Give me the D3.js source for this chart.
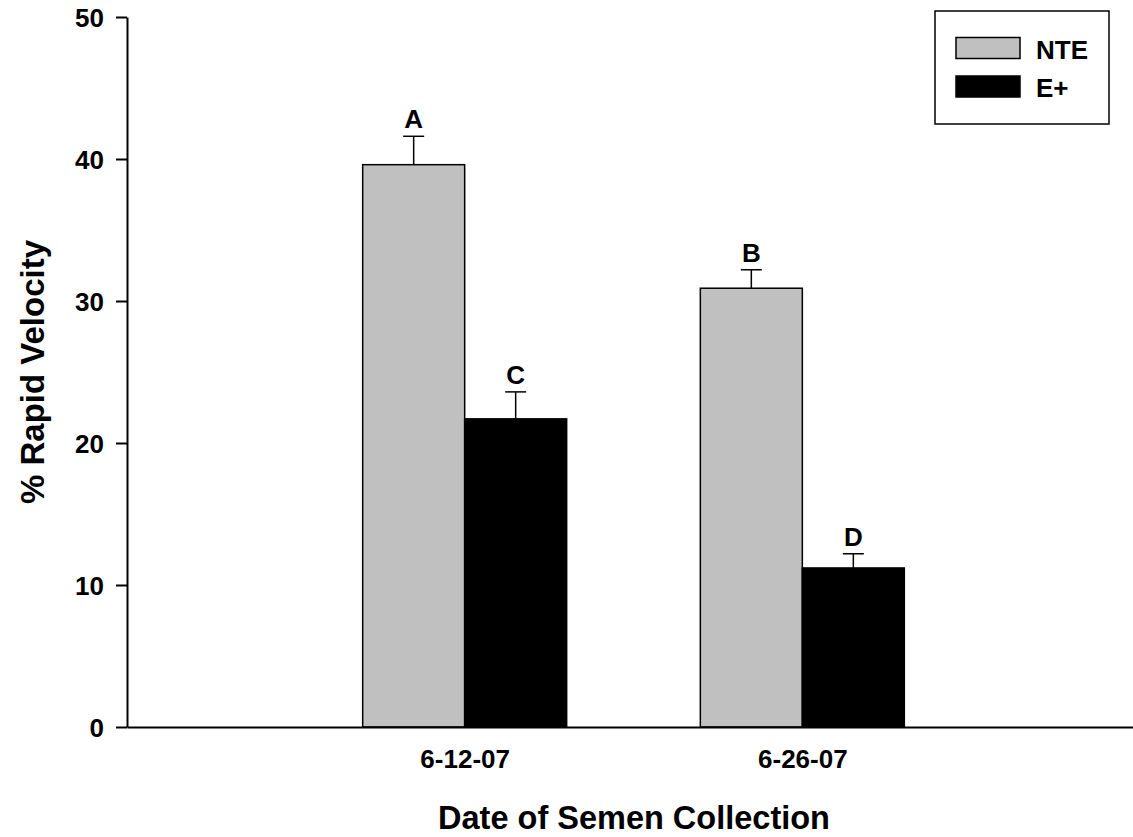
<!DOCTYPE html>
<html>
<head>
<meta charset="utf-8">
<script src="https://cdn.jsdelivr.net/npm/d3@7"></script>
<style>
  html, body { margin: 0; padding: 0; background: #fff; }
  svg { display: block; font-family: "Liberation Sans", Arial, sans-serif; font-weight: bold; }
</style>
</head>
<body>
<script>
// ---- data ----
const categories = ["6-12-07", "6-26-07"];
const seriesNames = ["NTE", "E+"];
const nteValues = [39.6, 30.9];
const nteErrors = [2.0, 1.3];
const ePlusValues = [21.7, 11.2];
const ePlusErrors = [1.9, 1.0];
const nteLetters = ["A", "B"];
const ePlusLetters = ["C", "D"];
const yTicks = [0, 10, 20, 30, 40, 50];
const seriesColors = ["#c0c0c0", "#000000"];

const W = 1133, H = 837;
const svg = d3.select("body").append("svg").attr("width", W).attr("height", H);

const x0 = 127, x1 = 1140, yBottom = 727, yTop = 17;
const x = d3.scalePoint().domain(categories).range([x0, x1]).padding(1);
const y = d3.scaleLinear().domain([0, 50]).range([yBottom, yTop]);
const barW = 102;

const series = [
  {name: seriesNames[0], values: nteValues, errors: nteErrors, letters: nteLetters, color: seriesColors[0], offset: -1},
  {name: seriesNames[1], values: ePlusValues, errors: ePlusErrors, letters: ePlusLetters, color: seriesColors[1], offset: 0}
];

// bars, error bars, letters
series.forEach(s => {
  const g = svg.append("g");
  const data = categories.map((c, i) => ({c, v: s.values[i], e: s.errors[i], l: s.letters[i]}));
  const left = d => x(d.c) + s.offset * barW;
  const cx = d => left(d) + barW / 2;
  g.selectAll("line.stem").data(data).join("line").attr("class", "stem")
    .attr("x1", cx).attr("x2", cx)
    .attr("y1", d => y(d.v)).attr("y2", d => y(d.v + d.e))
    .attr("stroke", "#000").attr("stroke-width", 1.5);
  g.selectAll("line.cap").data(data).join("line").attr("class", "cap")
    .attr("x1", d => cx(d) - 10.5).attr("x2", d => cx(d) + 10.5)
    .attr("y1", d => y(d.v + d.e)).attr("y2", d => y(d.v + d.e))
    .attr("stroke", "#000").attr("stroke-width", 1.5);
  g.selectAll("rect").data(data).join("rect")
    .attr("x", left).attr("width", barW)
    .attr("y", d => y(d.v)).attr("height", d => y(0) - y(d.v))
    .attr("fill", s.color).attr("stroke", "#000").attr("stroke-width", 1.5);
  g.selectAll("text").data(data).join("text")
    .attr("x", cx).attr("y", d => y(d.v + d.e) - 8)
    .attr("text-anchor", "middle").attr("font-size", 26)
    .text(d => d.l);
});

// y axis
const yAxis = d3.axisLeft(y).tickValues(yTicks).tickSize(11).tickPadding(12).tickSizeOuter(0);
const gy = svg.append("g").attr("transform", `translate(${x0},0)`).call(yAxis);
gy.select(".domain").attr("stroke-width", 2);
gy.selectAll(".tick line").attr("stroke-width", 2);
gy.selectAll(".tick text").attr("font-size", 26).attr("font-family", "Liberation Sans, Arial, sans-serif")
  .attr("font-weight", "bold").attr("fill", "#000").attr("dy", "0.36em");

// x axis
const xAxis = d3.axisBottom(x).tickSize(0).tickPadding(23).tickSizeOuter(0);
const gx = svg.append("g").attr("transform", `translate(0,${yBottom})`).call(xAxis);
gx.select(".domain").attr("stroke-width", 2);
gx.selectAll(".tick text").attr("font-size", 26).attr("font-family", "Liberation Sans, Arial, sans-serif")
  .attr("font-weight", "bold").attr("fill", "#000");

// axis titles
svg.append("text").attr("x", 634).attr("y", 829).attr("text-anchor", "middle")
  .attr("font-size", 32.5).text("Date of Semen Collection");
svg.append("text").attr("transform", "translate(44,372) rotate(-90)").attr("text-anchor", "middle")
  .attr("font-size", 33).text("% Rapid Velocity");

// legend
const lg = svg.append("g");
lg.append("rect").attr("x", 935).attr("y", 11).attr("width", 174).attr("height", 113)
  .attr("fill", "#fff").attr("stroke", "#000").attr("stroke-width", 1.5);
const legendItems = seriesNames.map((n, i) => ({n, c: seriesColors[i], i}));
lg.selectAll("rect.sw").data(legendItems).join("rect").attr("class", "sw")
  .attr("x", 956).attr("y", d => 37.5 + d.i * 38.5).attr("width", 64).attr("height", 21)
  .attr("fill", d => d.c).attr("stroke", "#000").attr("stroke-width", 1.5);
lg.selectAll("text").data(legendItems).join("text")
  .attr("x", 1036).attr("y", d => 58.5 + d.i * 38.5).attr("font-size", 26)
  .text(d => d.n);
</script>
</body>
</html>
